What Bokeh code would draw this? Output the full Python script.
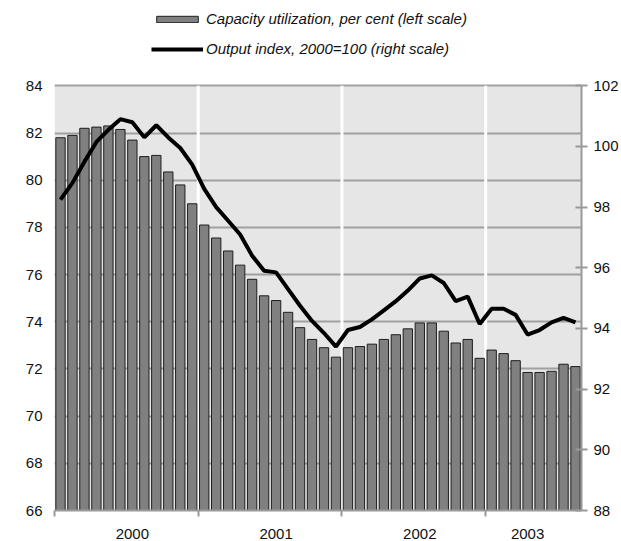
from bokeh.plotting import figure
from bokeh.models import (Range1d, LinearAxis, FixedTicker, Legend, LegendItem)
from bokeh.embed import file_html
from bokeh.resources import INLINE

# Monthly data, Jan 2000 .. Aug 2003
months = list(range(44))
capacity = [81.8, 81.9, 82.2, 82.25, 82.3, 82.15, 81.7, 81.0, 81.05, 80.35, 79.8, 79.0,
            78.1, 77.55, 77.0, 76.4, 75.8, 75.1, 74.9, 74.4, 73.75, 73.25, 72.9, 72.5,
            72.9, 72.95, 73.05, 73.25, 73.45, 73.7, 73.95, 73.95, 73.6, 73.1, 73.25, 72.45,
            72.8, 72.65, 72.35, 71.85, 71.85, 71.9, 72.2, 72.1]
output_index = [98.25, 98.8, 99.5, 100.15, 100.55, 100.9, 100.8, 100.3, 100.7, 100.3, 99.95, 99.4,
                98.6, 98.0, 97.55, 97.1, 96.4, 95.9, 95.85, 95.3, 94.75, 94.25, 93.85, 93.4,
                93.95, 94.05, 94.3, 94.6, 94.9, 95.25, 95.65, 95.75, 95.5, 94.9, 95.05, 94.15,
                94.65, 94.65, 94.45, 93.8, 93.95, 94.2, 94.35, 94.2]
years = ["2000", "2001", "2002", "2003"]
year_label_months = [6, 18, 30, 39]
year_boundaries = [-0.5, 11.5, 23.5, 35.5]
left_ticks = [66, 68, 70, 72, 74, 76, 78, 80, 82, 84]
right_ticks = [88, 90, 92, 94, 96, 98, 100, 102]

FONT = "Liberation Sans"

LEFT_MIN, LEFT_MAX = 66, 84
RIGHT_MIN, RIGHT_MAX = 88, 102
X_MIN, X_MAX = -0.5, 43.5

# frame spans from figure top to the x axis; the value area occupies the lower part
FRAME_H = 512.3
AREA_H = 426.6
stretch = FRAME_H / AREA_H

p = figure(width=621, height=541, output_backend="svg", toolbar_location=None,
           x_range=Range1d(X_MIN, X_MAX),
           y_range=Range1d(LEFT_MIN, LEFT_MIN + (LEFT_MAX - LEFT_MIN) * stretch),
           min_border_left=54, min_border_right=38, min_border_top=0,
           min_border_bottom=29)
p.extra_y_ranges = {"right": Range1d(RIGHT_MIN, RIGHT_MIN + (RIGHT_MAX - RIGHT_MIN) * stretch)}
p.background_fill_color = "white"
p.border_fill_color = "white"
p.outline_line_color = None
p.xgrid.visible = False
p.ygrid.visible = False

# plot-area background
p.quad(left=[X_MIN], right=[X_MAX], bottom=[LEFT_MIN], top=[LEFT_MAX],
       fill_color="#e6e6e6", line_color=None)
# horizontal gridlines
p.hspan(y=left_ticks[1:], line_color="#a0a0a0", line_width=2)
# year separators
p.segment(x0=year_boundaries[1:], x1=year_boundaries[1:],
          y0=[LEFT_MIN] * 3, y1=[LEFT_MAX] * 3, line_color="white", line_width=3)

bars = p.vbar(x=months, top=capacity, bottom=LEFT_MIN, width=0.78,
              fill_color="#808080", line_color="#1e1e1e", line_width=1)
line = p.line(months, output_index, y_range_name="right", line_color="black",
              line_width=4)

# x axis
xa = p.xaxis[0]
xa.ticker = FixedTicker(ticks=year_label_months, minor_ticks=year_boundaries)
xa.major_label_overrides = {m: y for m, y in zip(year_label_months, years)}
xa.axis_line_color = "#999999"
xa.axis_line_width = 2
xa.major_tick_line_color = None
xa.major_tick_out = 0
xa.major_tick_in = 0
xa.minor_tick_line_color = "#999999"
xa.minor_tick_line_width = 2
xa.minor_tick_out = 6
xa.minor_tick_in = 0
xa.major_label_standoff = 12
xa.major_label_text_font = FONT
xa.major_label_text_font_size = "15px"
xa.major_label_text_color = "#111111"

# left axis
ya = p.yaxis[0]
ya.ticker = FixedTicker(ticks=left_ticks)
ya.bounds = (LEFT_MIN, LEFT_MAX)
ya.axis_line_color = None
ya.major_tick_line_color = None
ya.minor_tick_line_color = None
ya.major_tick_out = 0
ya.major_label_standoff = 12
ya.major_label_text_font = FONT
ya.major_label_text_font_size = "15px"
ya.major_label_text_color = "#111111"

# right axis
ra = LinearAxis(y_range_name="right", ticker=FixedTicker(ticks=right_ticks),
                bounds=(RIGHT_MIN, RIGHT_MAX))
ra.axis_line_color = "#999999"
ra.axis_line_width = 2
ra.major_tick_line_color = "#999999"
ra.major_tick_line_width = 2
ra.major_tick_in = 6
ra.major_tick_out = 6
ra.minor_tick_line_color = None
ra.major_label_standoff = 6
ra.major_label_text_font = FONT
ra.major_label_text_font_size = "15px"
ra.major_label_text_color = "#111111"
p.add_layout(ra, "right")

legend = Legend(items=[
    LegendItem(label="Capacity utilization, per cent (left scale)", renderers=[bars]),
    LegendItem(label="Output index, 2000=100 (right scale)", renderers=[line]),
], location=(97, 453))
legend.orientation = "vertical"
legend.padding = 0
legend.margin = 0
legend.spacing = 13
legend.glyph_width = 52
legend.glyph_height = 8
legend.label_height = 14
legend.label_standoff = 3
legend.label_text_font = FONT
legend.label_text_font_style = "italic"
legend.label_text_font_size = "15px"
legend.label_text_color = "#111111"
legend.border_line_color = None
legend.background_fill_alpha = 0
p.add_layout(legend)

open("out.html", "w").write(file_html(p, INLINE))
